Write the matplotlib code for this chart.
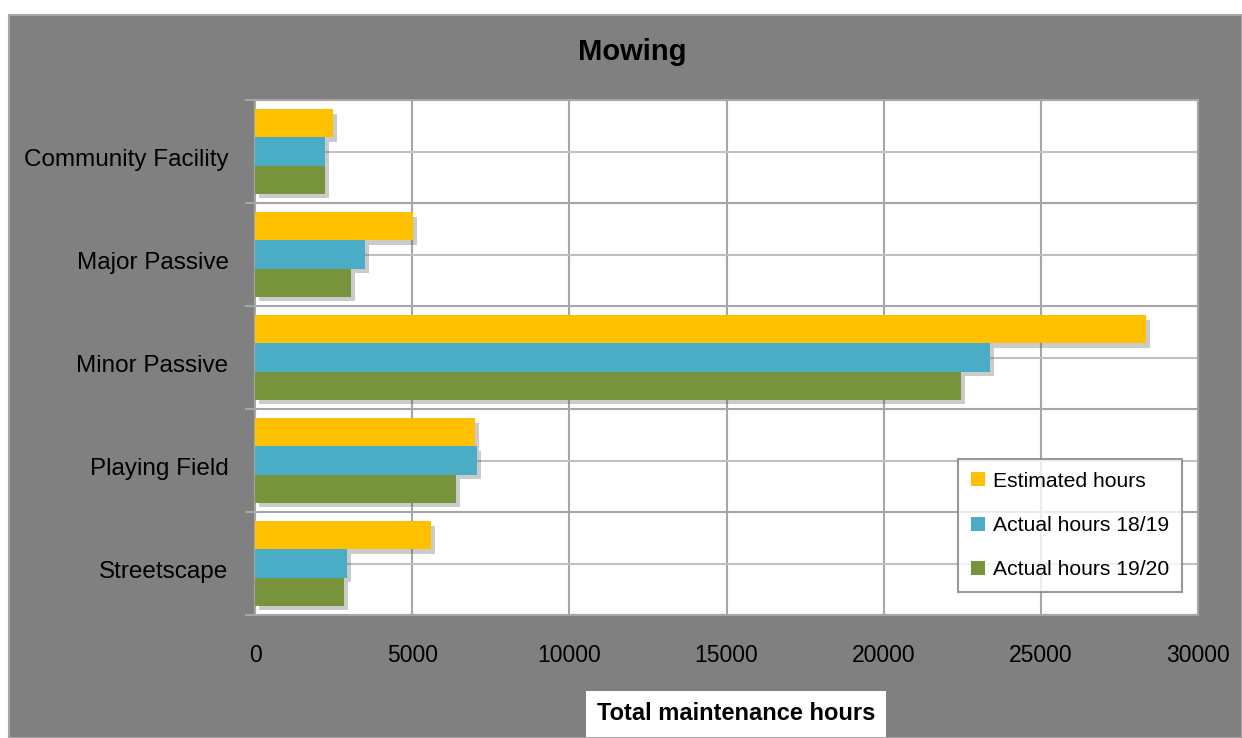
import numpy as np
import matplotlib
matplotlib.use("Agg")
import matplotlib.pyplot as plt
import matplotlib.patheffects as pe
import matplotlib.transforms as mtransforms
from matplotlib.patches import Rectangle

# data
categories = ["Community Facility", "Major Passive", "Minor Passive",
              "Playing Field", "Streetscape"]
estimated = [2470, 5030, 28350, 7000, 5600]
actual_1819 = [2230, 3500, 23380, 7060, 2930]
actual_1920 = [2230, 3050, 22460, 6400, 2830]
series_names = ["Estimated hours", "Actual hours 18/19", "Actual hours 19/20"]
colors = ["#FFC000", "#4BACC6", "#77933C"]
xticks = [0, 5000, 10000, 15000, 20000, 25000, 30000]

plt.rcParams['font.family'] = ['Liberation Sans', 'DejaVu Sans']

W, H = 1242, 738
fig = plt.figure(figsize=(W / 100, H / 100), dpi=100)
fig.patch.set_facecolor("white")
# grey chart area
fig.patches.append(Rectangle((9 / W, 0), 1 - 9 / W, 1 - 15 / H, transform=fig.transFigure,
                             facecolor="#808080", edgecolor="#a6a6a6", linewidth=1.5, zorder=-5))

ax = fig.add_axes([255 / W, 1 - 615 / H, (1198 - 255) / W, (615 - 100) / H])
ax.set_zorder(2)
ax.set_facecolor("white")

y = np.arange(len(categories))
h = 0.272
shadow = [pe.SimplePatchShadow(offset=(3, -3), shadow_rgbFace="#555555", alpha=0.3), pe.Normal()]
for k, (vals, name, col) in enumerate(zip([estimated, actual_1819, actual_1920], series_names, colors)):
    ax.barh(y + (k - 1) * h, vals, height=h, color=col, label=name, zorder=3, path_effects=shadow)

ax.set_xlim(0, 30000)
ax.set_ylim(len(categories) - 0.5, -0.5)
ax.set_xticks(xticks)
ax.set_xticklabels([str(v) for v in xticks], fontsize=16.5)
ax.set_yticks(y)
ax.set_yticklabels(categories, fontsize=17.5)
ax.set_yticks(np.arange(len(categories) + 1) - 0.5, minor=True)
ax.tick_params(axis="y", which="major", length=0, pad=19)
ax.tick_params(axis="y", which="minor", length=7, color="#a6a6a6", width=1.5)
ax.tick_params(axis="x", length=0, pad=21)
# nudge category labels slightly downward like the original
shift = mtransforms.ScaledTranslation(0, -4 / 72, fig.dpi_scale_trans)
for lbl in ax.get_yticklabels():
    lbl.set_transform(lbl.get_transform() + shift)
ax.grid(axis="x", color="#a6a6a6", linewidth=1.5, zorder=1)
for yy in np.arange(0, len(categories) + 0.5, 0.5) - 0.5:
    ax.axhline(yy, color="#c0c0c0" if yy % 1 == 0 else "#a6a6a6", linewidth=1.5, zorder=1)
ax.set_axisbelow(True)
for s in ax.spines.values():
    s.set_color("#a6a6a6")
    s.set_linewidth(1.5)

fig.text(632 / W, 1 - 52 / H, "Mowing", fontsize=21, fontweight="bold",
         ha="center", va="center")

leg = ax.legend(loc="lower right", bbox_to_anchor=(1182 / W, 1 - 592 / H),
                bbox_transform=fig.transFigure, borderaxespad=0, fontsize=15.2,
                frameon=True, fancybox=False, handlelength=0.65, handleheight=0.65,
                handletextpad=0.4, labelspacing=1.2, borderpad=0.6)
leg.get_frame().set_edgecolor("#808080")
leg.get_frame().set_linewidth(1.5)
for hnd in leg.legend_handles:
    hnd.set_path_effects([])

fig.text(736 / W, 1 - 714 / H, "Total maintenance hours", fontsize=17, fontweight="bold",
         ha="center", va="center",
         bbox=dict(facecolor="white", edgecolor="none", pad=8))

fig.savefig("out.png", dpi=100)
